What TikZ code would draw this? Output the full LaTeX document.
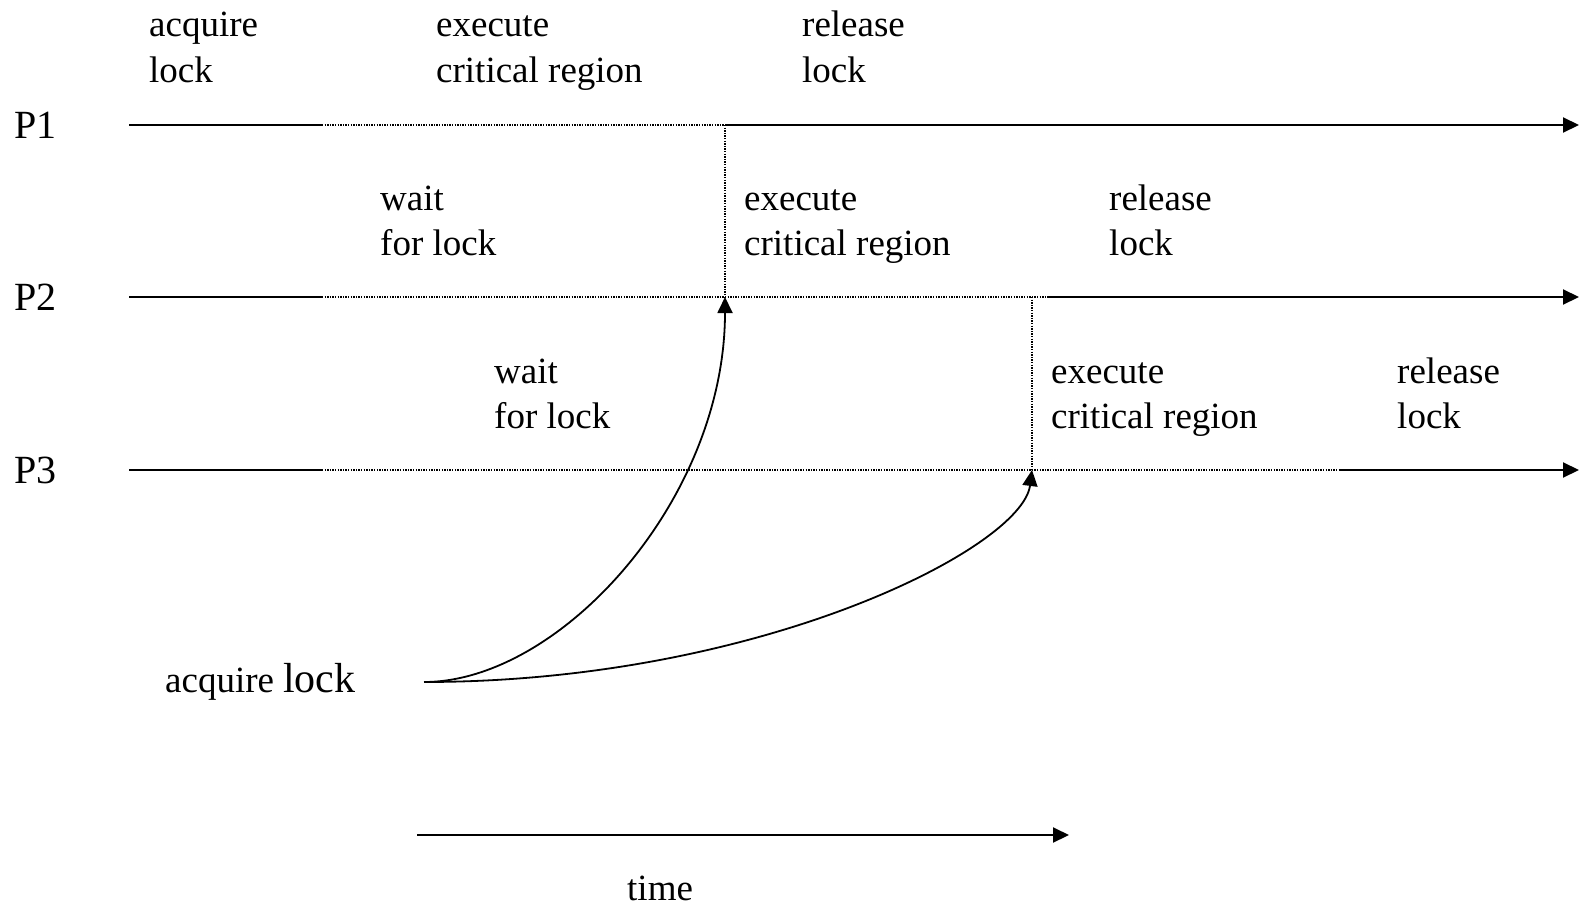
\documentclass[tikz,border=0pt]{standalone}
\usepackage{fontspec}
\setmainfont{Liberation Serif}
\usetikzlibrary{arrows.meta}
\begin{document}
\begin{tikzpicture}[x=1pt,y=-1pt,
  lbl/.style={anchor=base west,inner sep=0pt,font=\fontsize{37}{45}\selectfont},
  plbl/.style={lbl,font=\fontsize{40}{45}\selectfont},
  run/.style={line width=2pt},
  idle/.style={line width=1.3pt,dash pattern=on 1.3pt off 1.3pt,black},
  tip/.style={-{Triangle[length=16pt,width=15pt]}},
  curv/.style={line width=1.8pt,-{Triangle[length=16pt,width=15pt]}}]
\useasboundingbox (0,0) rectangle (1579,907);

% process timelines: P1, P2, P3
\foreach \n/\y in {1/125,2/297,3/470}{
  \coordinate (s\n) at (129,\y);
  \coordinate (w\n) at (322,\y);
  \coordinate (e\n) at (1579,\y);
  \node[plbl] (P\n) at (14,\y+13) {P\n};
}
\coordinate (r1) at (725,125);
\coordinate (r2) at (1049,297);
\coordinate (r3) at (1339,470);
\coordinate (g2) at (725,297);
\coordinate (g3) at (1032,470);

\foreach \n in {1,2,3}{
  \draw[run] (s\n) -- (w\n);
  \draw[idle] (w\n) -- (r\n);
  \draw[run,tip] (r\n) -- (e\n);
}
% lock hand-over
\draw[idle] (r1) -- (g2);
\draw[idle] (g3 |- r2) -- (g3);

% row 1 labels
\node[lbl] (a1a) at (149,37) {acquire};
\node[lbl] (a1b) at (149,82) {lock};
\node[lbl] (x1a) at (436,37) {execute};
\node[lbl] (x1b) at (436,82) {critical region};
\node[lbl] (l1a) at (802,37) {release};
\node[lbl] (l1b) at (802,82) {lock};
% row 2 labels
\node[lbl] (w2a) at (380,210) {wait};
\node[lbl] (w2b) at (380,255) {for lock};
\node[lbl] (x2a) at (744,210) {execute};
\node[lbl] (x2b) at (744,255) {critical region};
\node[lbl] (l2a) at (1109,210) {release};
\node[lbl] (l2b) at (1109,255) {lock};
% row 3 labels
\node[lbl] (w3a) at (494,383) {wait};
\node[lbl] (w3b) at (494,428) {for lock};
\node[lbl] (x3a) at (1051,383) {execute};
\node[lbl] (x3b) at (1051,428) {critical region};
\node[lbl] (l3a) at (1397,383) {release};
\node[lbl] (l3b) at (1397,428) {lock};

% acquire lock requests
\node[lbl] (acq) at (165,692) {acquire {\fontsize{42}{45}\selectfont lock}};
\coordinate (src) at (424,682);
\draw[curv] (src) .. controls (560,682) and (725,500) .. (g2);
\draw[curv] (src) .. controls (760,682) and (1022,548) .. (g3);

% time axis
\coordinate (t0) at (417,835);
\coordinate (t1) at (1069,835);
\draw[run,tip] (t0) -- (t1);
\node[lbl] (time) at (627,900) {time};
\end{tikzpicture}
\end{document}
